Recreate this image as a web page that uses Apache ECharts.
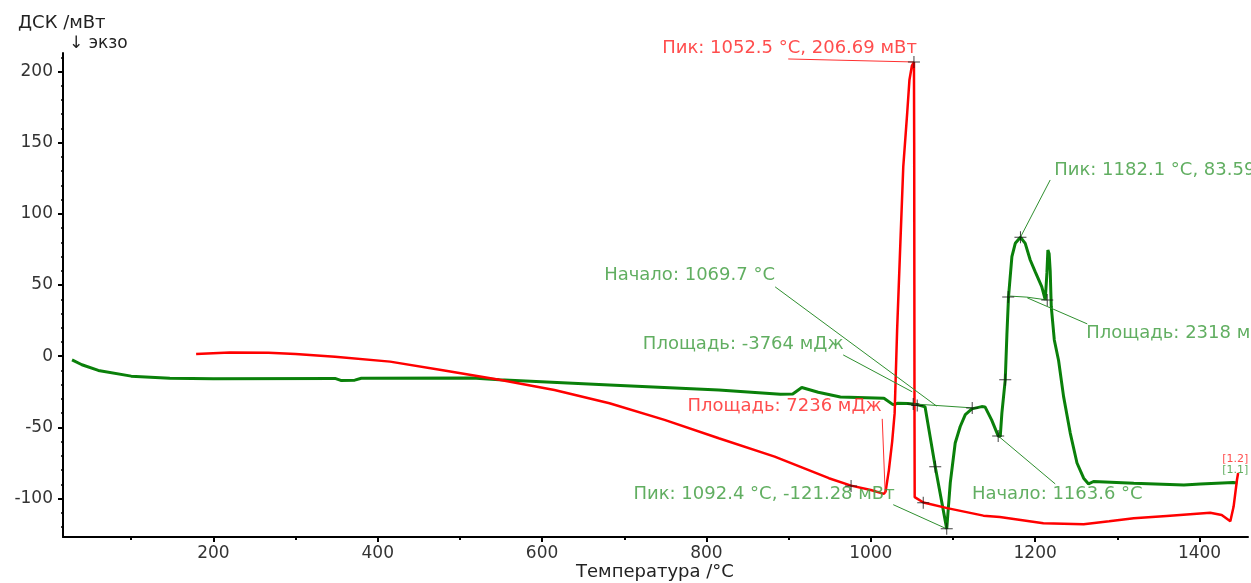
<!DOCTYPE html>
<html><head><meta charset="utf-8">
<script src="https://cdn.jsdelivr.net/npm/echarts@6/dist/echarts.min.js"></script>
<style>html,body{margin:0;padding:0;background:#fff}#c{width:1251px;height:583px}</style>
</head><body><div id="c"></div>
<script>
// DSC curve 1.2 (red): [temperature °C, mW]
const redCurve = [
  [179,1.6],[220,2.6],[267,2.5],[300,1.6],[348,-0.3],[415,-3.8],[481,-10],[548,-16.6],
  [615,-23.7],[682,-33],[749,-44.7],[815,-57.6],[883,-70.5],[949,-85.7],[976,-90.9],
  [1000,-94],[1016,-96.7],[1018,-95],[1022,-80],[1026,-60],[1029,-40],[1032,18],
  [1036,80],[1039.5,133],[1044.3,171],[1047,194],[1050,204],[1052.5,206.69],
  [1052.8,150],[1053,50],[1053.2,-50],[1053.4,-99],[1064,-102.8],[1093,-106.7],
  [1137,-112],[1157,-113],[1210,-117.3],[1259,-118],[1290,-116],[1320,-113.8],
  [1360,-112.2],[1413,-110],[1427,-111.5],[1437.5,-116],[1441.5,-105.6],[1445.6,-86.8],[1447,-82]
];
// DSC curve 1.1 (green)
const greenCurve = [
  [28,-2.6],[40,-6],[60,-10],[100,-14],[147,-15.5],[200,-15.8],[348,-15.6],[355,-17],
  [372,-16.8],[380,-15.5],[515,-15.3],[548,-16.6],[682,-20.2],[815,-23.7],[890,-26.7],
  [905,-26.5],[916,-22],[936,-25.3],[963,-28.6],[1016,-29.5],[1027,-34],[1033,-33],
  [1045,-33.3],[1056,-34],[1066,-35.5],[1078.4,-77.7],[1092.4,-121.28],[1096.7,-89],
  [1102.7,-61],[1108.8,-49.4],[1115,-41],[1123,-37],[1135,-35.4],[1139,-35.6],
  [1147,-44.7],[1155,-56],[1157.5,-56.5],[1159.5,-40],[1163.6,-16.6],[1165.6,15],
  [1167.6,41.9],[1171.7,70],[1175.8,79.3],[1182.1,83.59],[1187.9,79.3],[1194,67.6],
  [1200,59.4],[1208,48.9],[1212.3,39.5],[1214.3,58.5],[1215.5,74.6],[1217,72],
  [1218.3,60],[1219.6,34.8],[1223.3,11.4],[1228.5,-3],[1234.6,-28.4],[1242.7,-54],
  [1250.9,-75],[1259,-85.7],[1265,-89.7],[1271,-88],[1320,-89.2],[1381,-90.4],
  [1401,-89.7],[1441,-88.8],[1446,-89]
];
// tick labels
const xTicks = [200,400,600,800,1000,1200,1400];
const xMinor = [100,300,500,700,900,1100,1300];
const yTicks = [-100,-50,0,50,100,150,200];
const yMinor = [-120,-110,-90,-80,-70,-60,-40,-30,-20,-10,10,20,30,40,60,70,80,90,110,120,130,140,160,170,180,190,210];
// evaluation markers
const redCrosses = [[976,-91.1],[1052.5,206.69],[1063.8,-103]];
const greenCrosses = [[1051.6,-33.5],[1056.5,-34.7],[1078.4,-77.7],[1092.4,-121.28],[1123.4,-36.3],
  [1155,-56],[1163.6,-16.6],[1167.2,41.6],[1182.1,83.59],[1214.7,39.5]];
const redLeaders = [
  [[899.5,208.8],[1052.5,206.69]],
  [[1013.9,-44],[1017.5,-96]]
];
const greenLeaders = [
  [[1027.3,-104.3],[1092.4,-121.28]],
  [[883.6,48.7],[1080,-35]],
  [[966.4,0.9],[1050.4,-25]],
  [[1051.6,-33.5],[1123.4,-36.3]],
  [[1218.3,123.8],[1182.1,83.59]],
  [[1263.4,22.7],[1190.4,41]],
  [[1167.2,42.3],[1190,41.5]],
  [[1190,41.5],[1214.7,39.5]],
  [[1155,-56],[1224.4,-89.7]]
];
const redLabels = [
  ['Пик: 1052.5 °C, 206.69 мВт', 746.1, 216.5],
  ['Площадь: 7236 мДж', 776.9, -35.4],
  ['[1.2]', 1427.7, -72.1]
];
const greenLabels = [
  ['Пик: 1092.4 °C, -121.28 мВт', 711.2, -96.7],
  ['Начало: 1069.7 °C', 675.5, 56.9],
  ['Площадь: -3764 мДж', 722.6, 8.4],
  ['Пик: 1182.1 °C, 83.59 мВт', 1223.2, 130.8],
  ['Площадь: 2318 мДж', 1262.2, 15.9],
  ['Начало: 1163.6 °C', 1123, -96.9],
  ['[1.1]', 1427.7, -79.8]
];

const FONT = 'DejaVu Sans';
const RED = '#ff0000', GREEN = '#0a800a', GREEN_TXT = '#3a9a3a';
const crossPath = 'path://M5.5,0 H6.5 V5.5 H12 V6.5 H6.5 V12 H5.5 V6.5 H0 V5.5 H5.5 Z';
const plain = v => String(v);

function leaderSeries(lines, color, width) {
  return {
    type: 'line', data: [], silent: true, xAxisIndex: 0, yAxisIndex: 0,
    markLine: {
      silent: true, symbol: ['none','none'], animation: false,
      label: {show: false},
      lineStyle: {color: color, width: width, type: 'solid'},
      emphasis: {disabled: true},
      data: lines.map(l => [{coord: l[0]}, {coord: l[1]}])
    }
  };
}
function labelSeries(items, color) {
  return {
    type: 'scatter', silent: true, clip: false, symbolSize: 0,
    data: items.map(it => ({
      value: [it[1], it[2]], name: it[0],
      label: it[0].startsWith('[') ? {fontSize: 11} : {}
    })),
    label: {show: true, position: 'right', distance: 0, formatter: '{b}',
      color: color, fontFamily: FONT, fontSize: 18},
    z: 5
  };
}
function crossSeries(pts) {
  return {
    type: 'scatter', silent: true, clip: false, data: pts, symbol: crossPath, symbolSize: 12,
    itemStyle: {color: '#111'}, z: 6
  };
}

const chart = echarts.init(document.getElementById('c'), null, {renderer: 'canvas'});
chart.setOption({
  animation: false,
  backgroundColor: '#fff',
  grid: {left: 63, right: 3, top: 53, bottom: 46, containLabel: false},
  xAxis: [{
    type: 'value', min: 17, max: 1459, position: 'bottom',
    axisLine: {show: true, onZero: false, lineStyle: {color: '#000', width: 2}},
    axisTick: {show: true, customValues: xTicks, length: 5, lineStyle: {color: '#000', width: 2}},
    axisLabel: {customValues: xTicks, formatter: plain, margin: 8, color: '#333', fontFamily: FONT, fontSize: 17},
    splitLine: {show: false}
  }, {
    type: 'value', min: 17, max: 1459, position: 'bottom',
    axisLine: {show: false, onZero: false},
    axisTick: {show: true, customValues: xMinor, length: 3, lineStyle: {color: '#000', width: 2}},
    axisLabel: {show: false}, splitLine: {show: false}
  }],
  yAxis: [{
    type: 'value', min: -127, max: 213, position: 'left',
    axisLine: {show: true, onZero: false, lineStyle: {color: '#000', width: 2}},
    axisTick: {show: true, customValues: yTicks, length: 5, lineStyle: {color: '#000', width: 2}},
    axisLabel: {customValues: yTicks, formatter: plain, margin: 10, color: '#333', fontFamily: FONT, fontSize: 17},
    splitLine: {show: false}
  }, {
    type: 'value', min: -127, max: 213, position: 'left',
    axisLine: {show: false, onZero: false},
    axisTick: {show: true, customValues: yMinor, length: 2, lineStyle: {color: '#000', width: 1.5}},
    axisLabel: {show: false}, splitLine: {show: false}
  }],
  graphic: [
    {type: 'text', left: 18, top: 14, style: {text: 'ДСК /мВт', fill: '#222', font: '18px "DejaVu Sans"'}},
    {type: 'text', left: 69, top: 35, style: {text: '↓ экзо', fill: '#222', font: '17px "DejaVu Sans"'}},
    {type: 'text', left: 576, top: 563, style: {text: 'Температура /°C', fill: '#222', font: '18px "DejaVu Sans"'}}
  ],
  series: [
    leaderSeries(greenLeaders, '#2f8f2f', 1),
    leaderSeries(redLeaders, '#ff3030', 1),
    {type: 'line', name: 'green', data: greenCurve, showSymbol: false, silent: true,
      lineStyle: {color: GREEN, width: 3}, z: 3},
    {type: 'line', name: 'red', data: redCurve, showSymbol: false, silent: true,
      lineStyle: {color: RED, width: 2.5}, z: 4},
    crossSeries(redCrosses),
    crossSeries(greenCrosses),
    labelSeries(redLabels, '#ff2020'),
    labelSeries(greenLabels, GREEN_TXT)
  ]
});
</script></body></html>
